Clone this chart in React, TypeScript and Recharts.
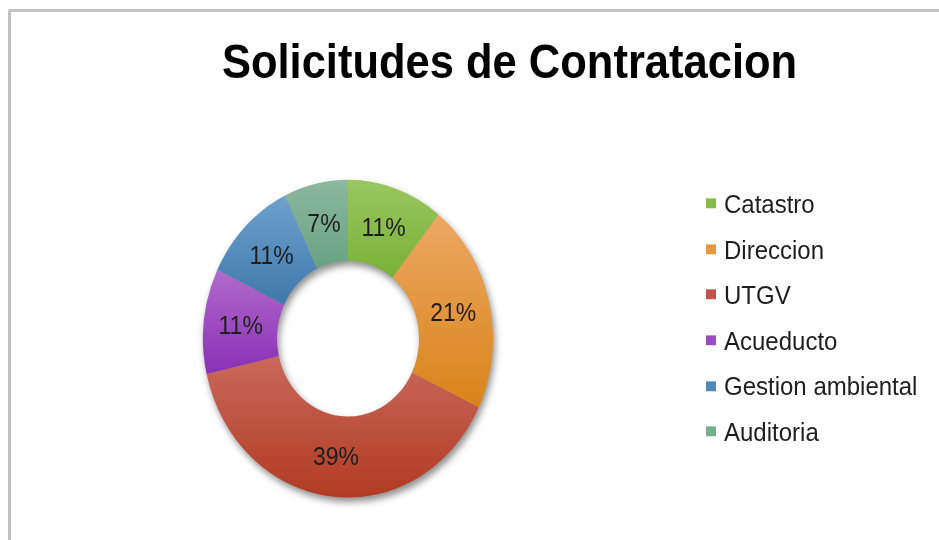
import React from 'react';
import { PieChart, Pie, Cell, Legend } from 'recharts';

const categories = ['Catastro', 'Direccion', 'UTGV', 'Acueducto', 'Gestion ambiental', 'Auditoria'];
const requests = [3, 6, 11, 3, 3, 2];
const topColors = ['#9ac65f', '#eca763', '#c9695c', '#b06bcc', '#70a1ce', '#8cb8a0'];
const bottomColors = ['#78b238', '#d98418', '#b13a22', '#8a2fb5', '#3e78aa', '#68a283'];
const legendColors = ['#86bb4a', '#e39a45', '#c0514c', '#9c4bc0', '#5088ba', '#78ac91'];

const FONT = '"Liberation Sans", Arial, sans-serif';
const RAD = Math.PI / 180;

const renderLabel = (props: any) => {
  const { cx, cy, midAngle, innerRadius, outerRadius, percent } = props;
  const r = (innerRadius + outerRadius) / 2;
  const x = cx + r * Math.cos(-midAngle * RAD);
  const y = cy + r * Math.sin(-midAngle * RAD);
  return (
    <text
      x={x}
      y={y}
      textAnchor="middle"
      dominantBaseline="central"
      fill="#1e1e1e"
      fontFamily={FONT}
      fontSize={23}
    >
      {`${Math.round(percent * 100)}%`}
    </text>
  );
};

const renderLegend = () => (
  <div style={{ fontFamily: FONT, fontSize: 24, color: '#1e1e1e' }}>
    {categories.map((name, i) => (
      <div key={name} style={{ height: 41.6, lineHeight: '41.6px', whiteSpace: 'nowrap' }}>
        <span
          style={{
            display: 'inline-block',
            width: 10,
            height: 9,
            background: legendColors[i],
            marginRight: 8,
            verticalAlign: 'middle',
            position: 'relative',
            top: -2,
          }}
        />
        <span>{name}</span>
      </div>
    ))}
  </div>
);

export default function App() {
  const data = categories.map((name, i) => ({ name, value: requests[i] }));
  return (
    <div style={{ position: 'absolute', left: 0, top: 0, width: 939, height: 540, overflow: 'hidden', background: '#fff' }}>
      <div
        style={{
          position: 'absolute',
          left: 0,
          top: 0,
          width: 939,
          height: 493,
          transform: 'scaleY(1.096)',
          transformOrigin: '0 0',
        }}
      >
        <svg width={0} height={0} style={{ position: 'absolute' }}>
          <defs>
            {categories.map((_, i) => (
              <linearGradient key={i} id={`grad${i}`} x1="0" y1="0" x2="0" y2="1">
                <stop offset="0%" stopColor={topColors[i]} />
                <stop offset="100%" stopColor={bottomColors[i]} />
              </linearGradient>
            ))}
            <filter id="blurShadow" x="-30%" y="-30%" width="160%" height="160%">
              <feGaussianBlur stdDeviation="3.5" />
            </filter>
          </defs>
        </svg>
        <div
          style={{
            position: 'absolute',
            left: 8,
            top: 8,
            width: 960,
            height: 600,
            borderLeft: '3px solid #c2c2c2',
            borderTop: '3px solid #c2c2c2',
            borderTopLeftRadius: 3,
          }}
        />
        <div
          style={{
            position: 'absolute',
            left: 80,
            width: 859,
            top: 35,
            textAlign: 'center',
            fontFamily: FONT,
            fontWeight: 'bold',
            fontSize: 43.5,
            lineHeight: '43.5px',
            color: '#000',
          }}
        >
          Solicitudes de Contratacion
        </div>
        <div style={{ position: 'absolute', left: 0, top: 0 }}>
          <PieChart width={939} height={493} margin={{ top: 0, right: 0, bottom: 0, left: 0 }}>
            <Pie
              data={data}
              dataKey="value"
              nameKey="name"
              cx={350}
              cy={313}
              innerRadius={71}
              outerRadius={145}
              startAngle={90}
              endAngle={-270}
              stroke="none"
              isAnimationActive={false}
              legendType="none"
              label={false}
              labelLine={false}
            >
              {data.map((_, i) => (
                <Cell key={i} fill="#000" fillOpacity={0.45} filter="url(#blurShadow)" />
              ))}
            </Pie>
            <Pie
              data={data}
              dataKey="value"
              nameKey="name"
              cx={348}
              cy={309}
              innerRadius={71}
              outerRadius={145}
              startAngle={90}
              endAngle={-270}
              stroke="none"
              isAnimationActive={false}
              label={renderLabel}
              labelLine={false}
            >
              {data.map((_, i) => (
                <Cell key={i} fill={`url(#grad${i})`} />
              ))}
            </Pie>
            <Legend
              layout="vertical"
              content={renderLegend}
              wrapperStyle={{ left: 706, top: 165, width: 230, bottom: 'auto', right: 'auto' }}
            />
          </PieChart>
        </div>
      </div>
    </div>
  );
}
